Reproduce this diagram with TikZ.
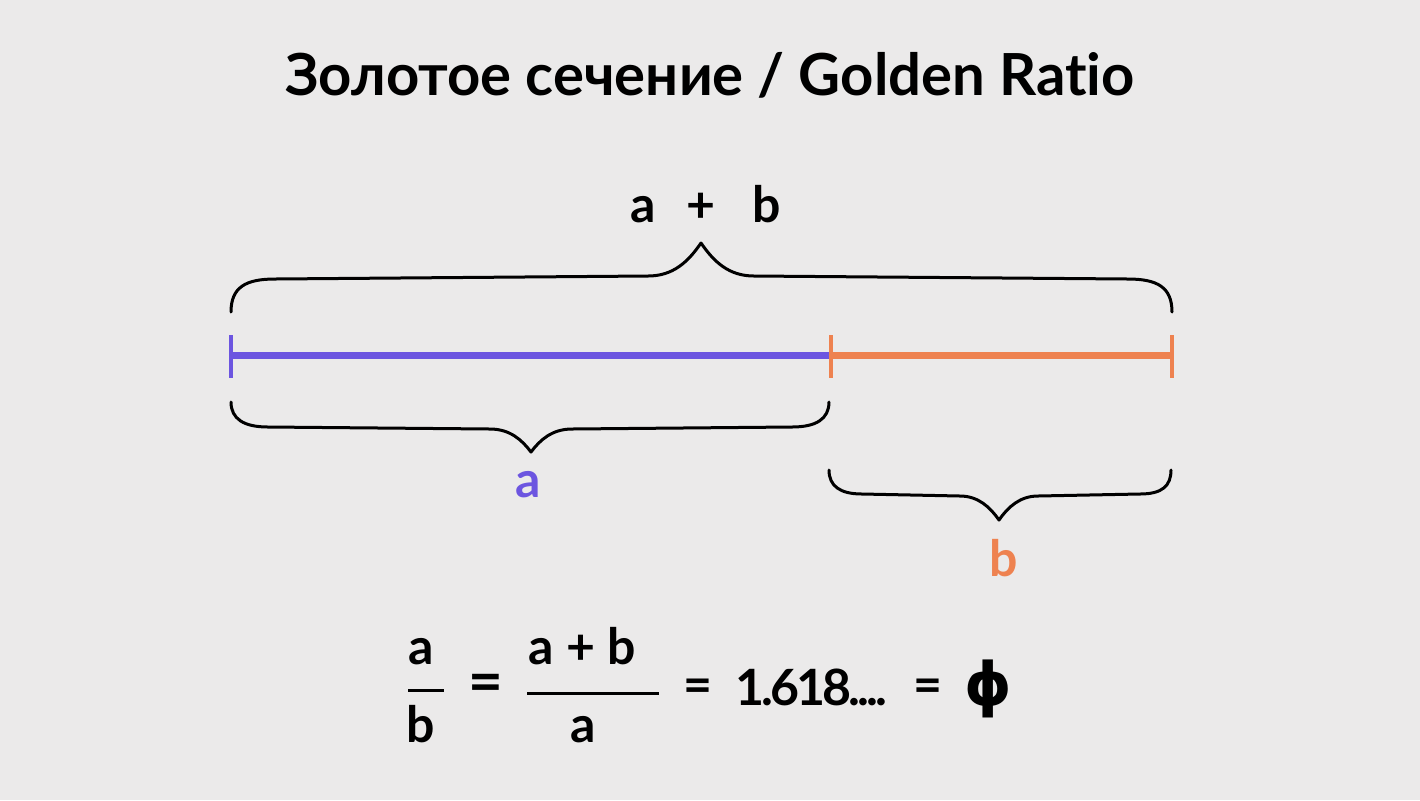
\documentclass[tikz,border=0pt]{standalone}
\usepackage{fontspec}
\setmainfont[Ligatures=NoCommon]{Lato}
\newfontfamily\numfont[Ligatures=NoCommon,LetterSpace=-6]{Lato}
\newfontfamily\phifont{DejaVu Sans}
\definecolor{bg}{RGB}{235,234,234}
\definecolor{segA}{RGB}{108,85,224}
\definecolor{segB}{RGB}{238,130,80}
\tikzset{
  lbl/.style={inner sep=0pt, anchor=base, font=\fontsize{25}{25}\selectfont\bfseries},
  brace/.style={line width=1.5pt, black, line cap=round, line join=round},
  seg/.style={line width=3.5pt},
  tick/.style={line width=2pt},
  fracbar/.style={line width=1.5pt, black}
}
\begin{document}
\begin{tikzpicture}[x=0.5pt,y=-0.5pt]
\fill[bg] (0,0) rectangle (1420,800);
\useasboundingbox (0,0) rectangle (1420,800);

% title
\node[lbl, font=\fontsize{29}{29}\selectfont\bfseries] (title) at (710,95) {Золотое сечение / Golden Ratio};

% a + b label
\node[lbl] (ta) at (643,222) {a};
\node[lbl] (tp) at (701,222) {+};
\node[lbl] (tb) at (767,222) {b};

% segment coordinates
\coordinate (L) at (231,355);
\coordinate (M) at (831,355);
\coordinate (R) at (1172,355);
\coordinate (Lt) at (231,335); \coordinate (Lb) at (231,378);
\coordinate (Mt) at (831,335); \coordinate (Mb) at (831,378);
\coordinate (Rt) at (1172,335); \coordinate (Rb) at (1172,378);

\draw[seg, segA] (L) -- (M);
\draw[seg, segB] (M) -- (R);
\draw[tick, segA] (Lt) -- (Lb);
\draw[tick, segB] (Mt) -- (Mb);
\draw[tick, segB] (Rt) -- (Rb);

% top brace
\coordinate (tbL) at (231,312);
\coordinate (tbR) at (1172,312);
\coordinate (tbTip) at (701,243);
\draw[brace] (tbL) .. controls (231,287) and (246,279) .. (275,279)
  -- (648,276) .. controls (673,276) and (688,262) .. (tbTip)
  .. controls (714,262) and (729,276) .. (754,276)
  -- (1128,279) .. controls (1157,279) and (1172,287) .. (tbR);

% brace a
\coordinate (baL) at (231,402);
\coordinate (baR) at (829,402);
\coordinate (baTip) at (531,452);
\draw[brace] (baL) .. controls (231,419) and (244,427) .. (268,427)
  -- (490,429) .. controls (510,429) and (522,440) .. (baTip)
  .. controls (540,440) and (552,429) .. (572,429)
  -- (792,427) .. controls (816,427) and (829,419) .. (baR);
\node[lbl, text=segA] (la) at (528,497) {a};

% brace b
\coordinate (bbL) at (829,470);
\coordinate (bbR) at (1171,470);
\coordinate (bbTip) at (999,520);
\draw[brace] (bbL) .. controls (829,486) and (840,494) .. (862,494)
  -- (960,496) .. controls (978,496) and (990,507) .. (bbTip)
  .. controls (1008,507) and (1020,496) .. (1038,496)
  -- (1140,494) .. controls (1162,494) and (1171,486) .. (bbR);
\node[lbl, text=segB] (lb) at (1004,576) {b};

% formula
\node[lbl] (f1n) at (421,664) {a};
\node[lbl] (f1d) at (421,742) {b};
\coordinate (f1l) at (408,690); \coordinate (f1r) at (444,690);
\draw[fracbar] (f1l) -- (f1r);
\node[lbl, font=\fontsize{30}{30}\selectfont\bfseries] (eq1) at (486,702) {=};
\node[lbl] (f2n) at (582,664) {a + b};
\node[lbl] (f2d) at (583,742) {a};
\coordinate (f2l) at (527,693); \coordinate (f2r) at (659,693);
\draw[fracbar] (f2l) -- (f2r);
\node[lbl] (eq2) at (698,702) {=};
\node[lbl, anchor=base west, font=\fontsize{25}{25}\selectfont\numfont\bfseries] (num) at (735,705) {1.618{.}{.}{.}{.}};
\node[lbl] (eq3) at (928,702) {=};
\node[lbl, font=\fontsize{30}{30}\selectfont\phifont\bfseries] (phi) at (988,705) {ϕ};
\end{tikzpicture}
\end{document}
